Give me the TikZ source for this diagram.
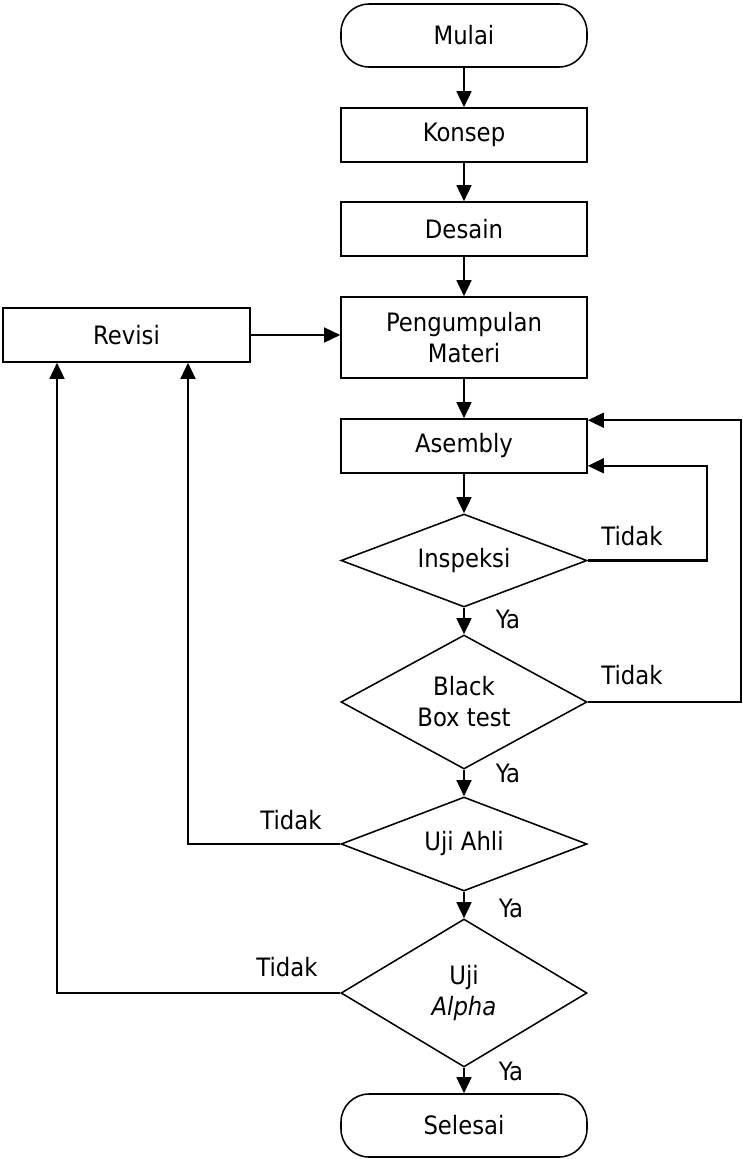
\documentclass[tikz,border=0pt]{standalone}
\usepackage{fontspec}
\setmainfont{DejaVu Sans Condensed}
\usetikzlibrary{shapes.geometric,arrows.meta,calc}
\newcommand{\pxu}{0.025cm}

\begin{document}
\begin{tikzpicture}[x=0.025cm, y=-0.025cm,
		font=\fontsize{18}{22}\selectfont,
		box/.style={draw, line width=1.1pt, minimum width=246*\pxu, minimum height=54*\pxu, inner sep=0pt, align=center},
		term/.style={box, rounded corners=0.7cm, minimum height=63*\pxu},
		dec/.style={draw, diamond, line width=1.1pt, minimum width=246*\pxu, inner sep=0pt, align=center},
		arr/.style={line width=1.5pt, -{Triangle[length=0.4cm,width=0.37cm]}}]
				\useasboundingbox (0,0) rectangle (743,1159);

				\node[term] (mulai) at (464,35.5) {Mulai};
				\node[box] (konsep) at (464,135) {Konsep};
				\node[box] (desain) at (464,229) {Desain};
				\node[box, minimum height=81*\pxu] (materi) at (464,337.5) {Pengumpulan\\Materi};
				\node[box, minimum width=247*\pxu] (revisi) at (126.5,335) {Revisi};
				\node[box] (asembly) at (464,446) {Asembly};
				\node[dec, minimum height=93*\pxu, shape aspect=2.6] (inspeksi) at (464,560.5) {Inspeksi};
				\node[dec, minimum height=134*\pxu, shape aspect=1.8] (bbt) at (464,702) {Black\\Box test};
				\node[dec, minimum height=94*\pxu, shape aspect=2.6] (ahli) at (464,844) {Uji Ahli};
				\node[dec, minimum height=148*\pxu, shape aspect=1.66] (alpha) at (464,993) {Uji\\\textit{Alpha}};
				\node[term] (selesai) at (464,1125.5) {Selesai};

				\draw[arr] (mulai) -- (konsep);
				\draw[arr] (konsep) -- (desain);
				\draw[arr] (desain) -- (materi);
				\draw[arr] (materi) -- (asembly);
				\draw[arr] (asembly) -- (inspeksi);
				\draw[arr] (inspeksi) -- (bbt);
				\draw[arr] (bbt) -- (ahli);
				\draw[arr] (ahli) -- (alpha);
				\draw[arr] (alpha) -- (selesai);
				\draw[arr] (revisi.east) -- (revisi.east -| materi.west);

				% loops back
				\coordinate (asmtop) at ($(asembly.north east)+(0,2)$);
				\coordinate (asmbot) at ($(asembly.south east)+(0,-8)$);
				\coordinate (revA) at ($(revisi.south)+(61.5,0)$);
				\coordinate (revB) at ($(revisi.south)+(-69.5,0)$);
				\draw[arr] (inspeksi.east) -- ++(119,0) |- (asmbot);
				\draw[arr] (bbt.east) -- ++(153,0) |- (asmtop);
				\draw[arr] (ahli.west) -| (revA);
				\draw[arr] (alpha.west) -| (revB);

				\node (tidak1) at (632,536) {Tidak};
				\node (tidak2) at (632,675) {Tidak};
				\node (tidak3) at (291,820) {Tidak};
				\node (tidak4) at (287,967) {Tidak};
				\node (ya1) at (508,619) {Ya};
				\node (ya2) at (508,773) {Ya};
				\node (ya3) at (511,908) {Ya};
				\node (ya4) at (511,1071) {Ya};

			\end{tikzpicture}
\end{document}
